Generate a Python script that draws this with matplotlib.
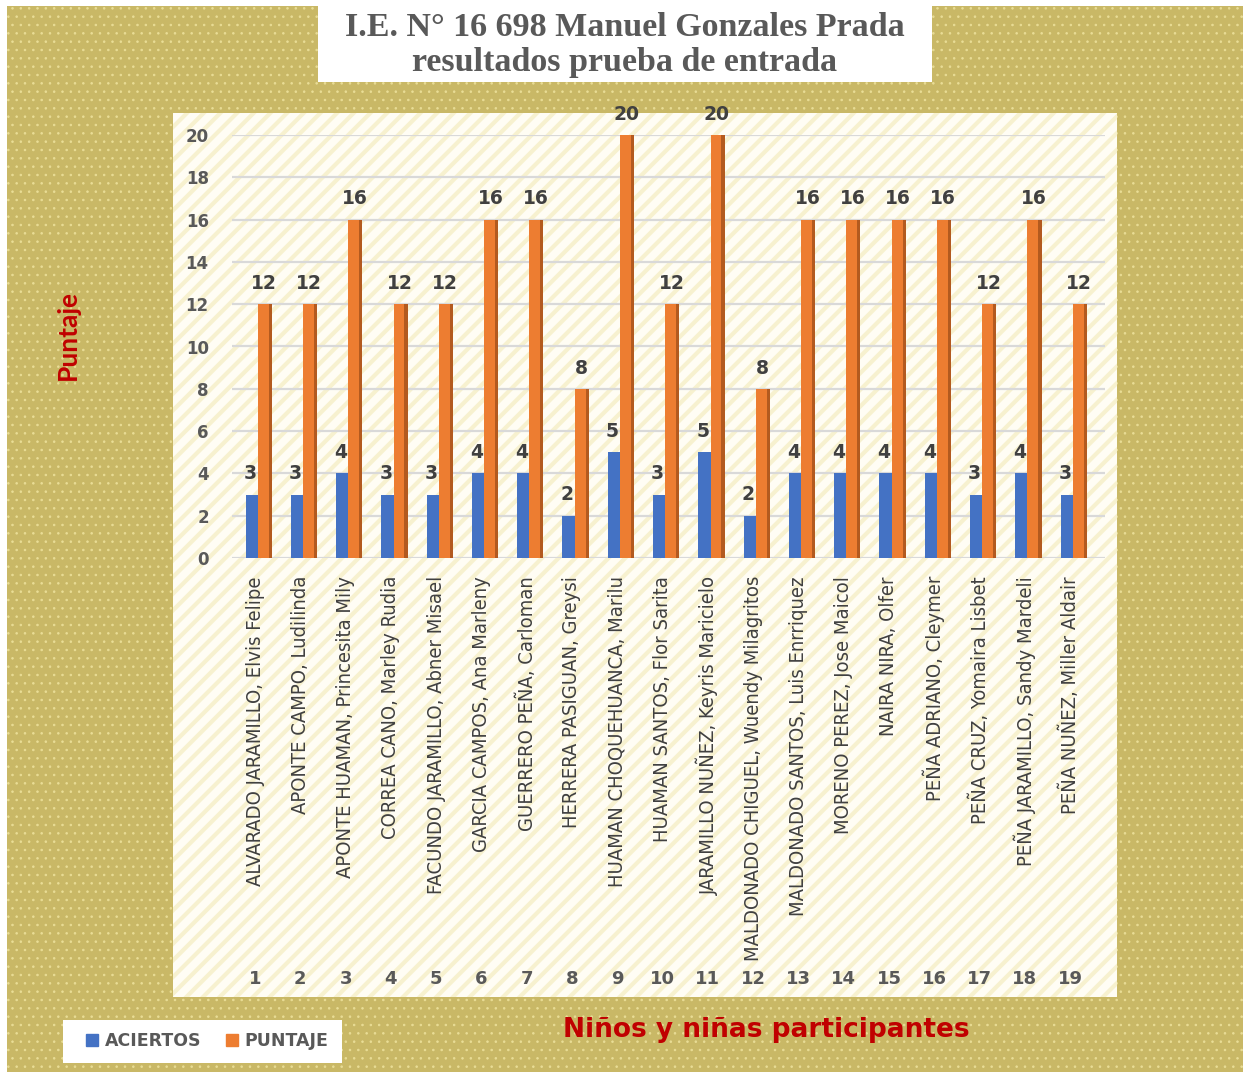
import matplotlib
matplotlib.use("Agg")
import matplotlib.pyplot as plt
from matplotlib import font_manager as fm
from matplotlib.patches import Rectangle
from matplotlib.lines import Line2D
from matplotlib.transforms import blended_transform_factory
import numpy as np

names = ["ALVARADO JARAMILLO, Elvis Felipe", "APONTE CAMPO, Ludilinda",
         "APONTE HUAMAN, Princesita Mily", "CORREA CANO, Marley Rudia",
         "FACUNDO JARAMILLO, Abner Misael", "GARCIA CAMPOS, Ana Marleny",
         "GUERRERO PEÑA, Carloman", "HERRERA PASIGUAN, Greysi",
         "HUAMAN CHOQUEHUANCA, Marilu", "HUAMAN SANTOS, Flor Sarita",
         "JARAMILLO NUÑEZ, Keyris Maricielo", "MALDONADO CHIGUEL, Wuendy Milagritos",
         "MALDONADO SANTOS, Luis Enrriquez", "MORENO PEREZ, Jose Maicol",
         "NAIRA NIRA, Olfer", "PEÑA ADRIANO, Cleymer", "PEÑA CRUZ, Yomaira Lisbet",
         "PEÑA JARAMILLO, Sandy Mardeli", "PEÑA NUÑEZ, Miller Aldair"]
numbers = [str(i) for i in range(1, 20)]
aciertos = [3, 3, 4, 3, 3, 4, 4, 2, 5, 3, 5, 2, 4, 4, 4, 4, 3, 4, 3]
puntaje = [12, 12, 16, 12, 12, 16, 16, 8, 20, 12, 20, 8, 16, 16, 16, 16, 12, 16, 12]
yticks = list(range(0, 21, 2))

# pick a narrow / condensed font for the rotated names if one is installed
name_font = None
cands = []
for f in fm.fontManager.ttflist:
    nm = f.name.lower()
    narrow = ("narrow" in nm) or ("condensed" in nm) or (str(f.stretch) in ("condensed", "semi-condensed"))
    if narrow and f.style == "normal" and str(f.weight) in ("400", "normal", "regular", "book"):
        pri = 0 if "liberation" in nm else (1 if "dejavu" in nm else 2)
        cands.append((pri, f.fname))
if cands:
    cands.sort()
    name_font = fm.FontProperties(fname=cands[0][1], size=14.5)
else:
    name_font = fm.FontProperties(family="DejaVu Sans", size=12)

W, H = 1249, 1077
fig = plt.figure(figsize=(W / 100, H / 100), dpi=100)
fig.patch.set_facecolor("white")

def fx(px):
    return px / W

def fy(py):
    return 1 - py / H

# outer dotted olive background
plt.rcParams["hatch.linewidth"] = 0.6
bg = Rectangle((fx(7), fy(1072)), fx(1236), 1066 / H, transform=fig.transFigure,
               facecolor="#c9b866", edgecolor="#e9dd96", hatch="..", linewidth=0, zorder=-3)
fig.patches.append(bg)

# title box
tb = Rectangle((fx(318), fy(82)), fx(614), 77 / H, transform=fig.transFigure,
               facecolor="white", edgecolor="none", zorder=-2)
fig.patches.append(tb)
fig.text(fx(625), fy(28), "I.E. N° 16 698 Manuel Gonzales Prada", ha="center", va="center",
         family="Liberation Serif", fontweight="bold", fontsize=24.5, color="#595959")
fig.text(fx(625), fy(62), "resultados prueba de entrada", ha="center", va="center",
         family="Liberation Serif", fontweight="bold", fontsize=24.5, color="#595959")

# plot panel with diagonal stripes
plt.rcParams["hatch.linewidth"] = 3.0
panel = Rectangle((fx(173), fy(997)), fx(944), 884 / H, transform=fig.transFigure,
                  facecolor="#fffdf4", edgecolor="#f7f1cf", hatch="//", linewidth=0, zorder=-2)
fig.patches.append(panel)

# axes
ax_left, ax_right = 232.4, 1105
ax = fig.add_axes([fx(ax_left), fy(558), fx(ax_right - ax_left), 423 / H])
ax.set_zorder(2)
ax.set_facecolor("none")
x = np.arange(len(names))
blue, orange = "#4472c4", "#ed7d31"
ax.bar(x - 0.075, aciertos, width=0.27, color=blue, zorder=3)
ax.bar(x + 0.18, puntaje, width=0.24, color=orange, zorder=4)
ax.bar(x + 0.335, puntaje, width=0.07, color="#b35a1f", zorder=4)

for xi, a, p in zip(x, aciertos, puntaje):
    ax.text(xi - 0.11, a + 0.98, str(a), ha="center", va="center", fontsize=13.5,
            fontweight="bold", color="#404040", zorder=5, clip_on=False)
    ax.text(xi + 0.2, p + 0.98, str(p), ha="center", va="center", fontsize=13.5,
            fontweight="bold", color="#404040", zorder=5, clip_on=False)

ax.set_xlim(-0.5, 18.5 + (ax_right - 1092.7) / 45.28)
ax.set_ylim(0, 20)
ax.set_yticks(yticks)
ax.yaxis.grid(True, color="#d9d9d9", linewidth=1.6, zorder=0)
ax.set_axisbelow(True)
for s in ax.spines.values():
    s.set_visible(False)
ax.tick_params(axis="y", length=0, pad=17, labelsize=12, labelcolor="#595959")
for lab in ax.get_yticklabels():
    lab.set_fontweight("bold")
ax.set_xticks(x)
ax.set_xticklabels(names, rotation=90, fontproperties=name_font, color="#404040")
ax.tick_params(axis="x", length=0, pad=13)

trans = blended_transform_factory(ax.transData, fig.transFigure)
for xi, n in zip(x, numbers):
    ax.text(xi, fy(979), n, transform=trans, ha="center", va="center", fontsize=13,
            fontweight="bold", color="#595959", clip_on=False)

# axis titles
fig.text(fx(68), fy(335), "Puntaje", rotation=90, ha="center", va="center",
         family="Lato", fontweight="bold", fontsize=19, color="#c00000")
fig.text(fx(766), fy(1030), "Niños y niñas participantes", ha="center", va="center",
         family="DejaVu Sans", fontweight="bold", fontsize=19, color="#c00000")

# legend
lb = Rectangle((fx(63), fy(1063)), fx(279), 43 / H, transform=fig.transFigure,
               facecolor="white", edgecolor="none", zorder=-2)
fig.patches.append(lb)
handles = [Line2D([], [], marker="s", linestyle="none", markersize=8, color=blue),
           Line2D([], [], marker="s", linestyle="none", markersize=8, color=orange)]
leg = fig.legend(handles, ["ACIERTOS", "PUNTAJE"], loc="center",
                 bbox_to_anchor=(fx(206), fy(1041)), ncol=2, frameon=False,
                 prop={"family": "DejaVu Sans", "weight": "bold", "size": 12.5},
                 handletextpad=0.2, columnspacing=1.3, handlelength=1.0)
for t in leg.get_texts():
    t.set_color("#595959")

fig.savefig("out.png", dpi=100, facecolor="white")
